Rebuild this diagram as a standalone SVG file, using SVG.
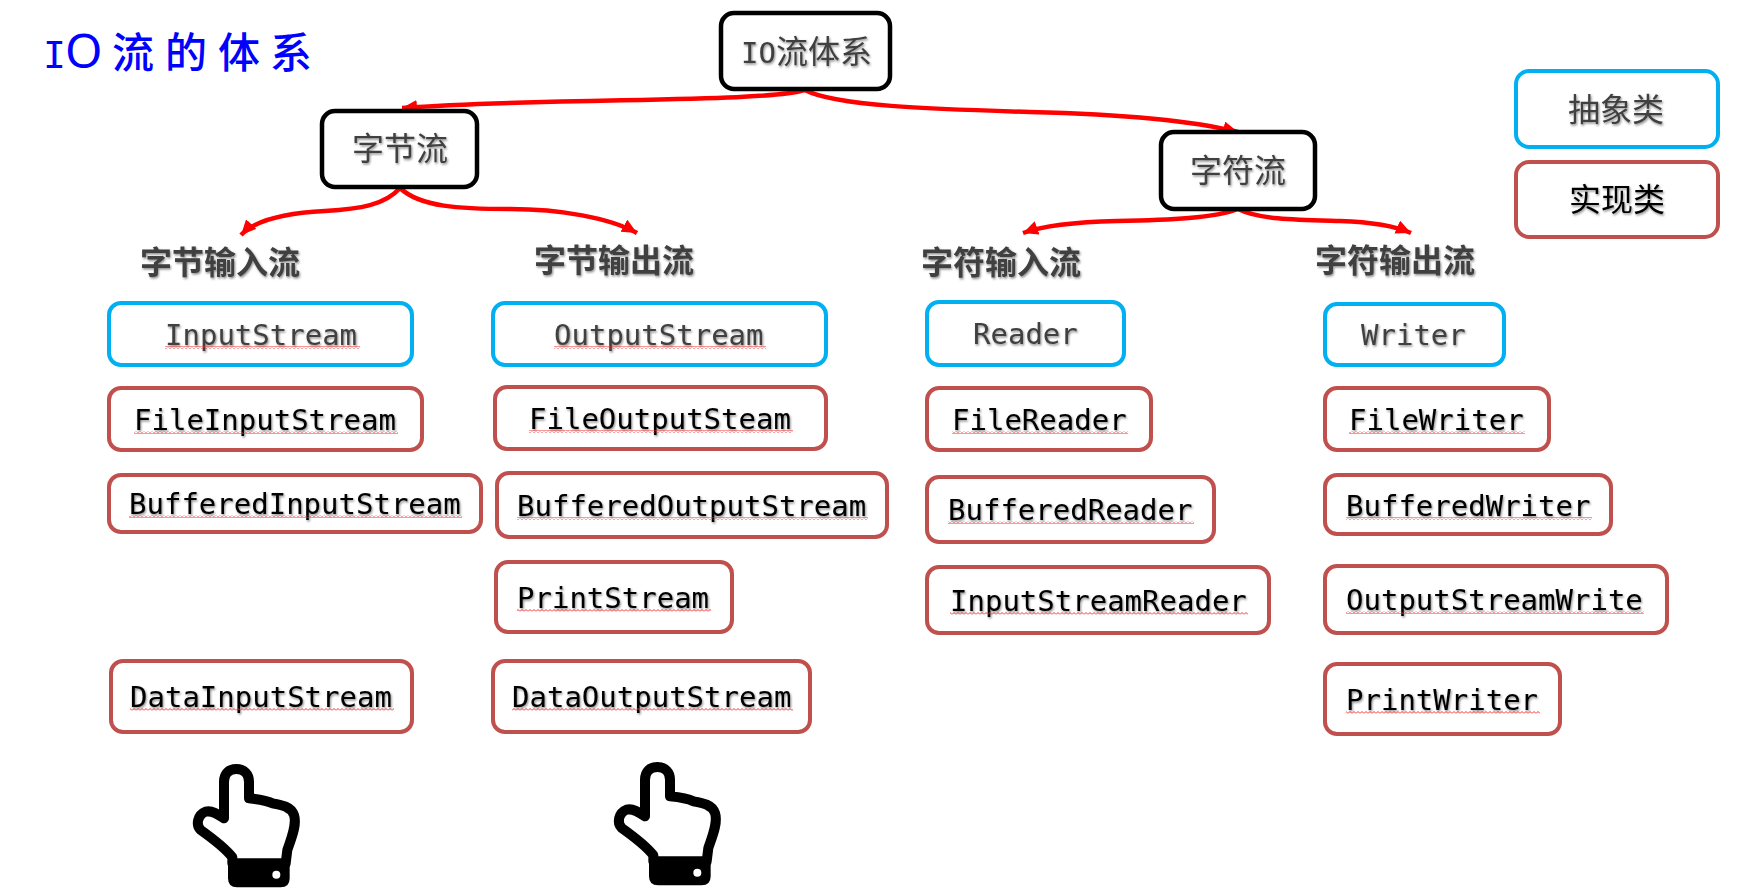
<svg xmlns="http://www.w3.org/2000/svg" width="1752" height="895" viewBox="0 0 1752 895">
<style>
  .box { fill: #fff; stroke-width: 4; }
  .root { stroke: #000; stroke-width: 4.5; }
  .abs { stroke: #00B0F0; }
  .impl { stroke: #C0504D; }
  text { filter: url(#soft); }
  .code { font: 29px "DejaVu Sans Mono", "Liberation Mono", monospace; }
  .cjk { font-family: "Noto Sans CJK SC", sans-serif; font-size: 32px; }
  .head { font-weight: 700; fill: #404040; }
  .dark { fill: #404040; }
  .ink { fill: #000; }
  .wave { fill: url(#squiggle); }
  .link { fill: none; stroke: #f00; stroke-width: 4.5; marker-end: url(#tip); }
  #title { filter: none; fill: #0000ff; font-size: 42px; font-weight: 500; }
  #title .mono { font: 400 38px "DejaVu Sans Mono", monospace; }
  #title .wide { font: 400 48px "Noto Sans", sans-serif; }
  .latin { font: 29px "DejaVu Sans Mono", monospace; }
</style>
<defs>
  <filter id="soft" x="-5%" y="-10%" width="110%" height="130%">
    <feDropShadow dx="1" dy="1.5" stdDeviation="1" flood-color="#000" flood-opacity="0.45"/>
  </filter>
  <pattern id="squiggle" width="4" height="3" patternUnits="userSpaceOnUse">
    <path d="M0 2.5 L2 0.5 L4 2.5" fill="none" stroke="#f03030" stroke-width="1"/>
  </pattern>
  <marker id="tip" markerUnits="userSpaceOnUse" markerWidth="18" markerHeight="16" refX="15" refY="7" orient="auto">
    <path d="M0 0 L15 7 L0 14 Z" fill="#f00"/>
  </marker>
  <symbol id="hand" viewBox="0 0 450 435" width="150" height="145">
    <path d="M165 205 V95 C165 70 180 57 202 57 C225 57 240 72 240 95 V145 C270 148 290 150 310 160 C340 165 365 170 375 195 C385 225 365 270 355 300 L350 340 H190 V322 C170 295 130 265 95 240 C80 225 85 195 110 185 C130 180 150 195 165 205 Z" fill="#fff" stroke="#000" stroke-width="30" stroke-linejoin="round"/>
    <path d="M177 332 H362 V385 Q362 412 335 412 H204 Q177 412 177 385 Z" fill="#000"/>
    <circle cx="322" cy="374" r="12" fill="#fff"/>
  </symbol>
</defs>
<rect width="1752" height="895" fill="#fff"/>

<text id="title" class="cjk" y="68"><tspan class="mono" x="43">I</tspan><tspan class="wide" x="65">O</tspan><tspan x="112">流</tspan><tspan x="165">的</tspan><tspan x="218">体</tspan><tspan x="270">系</tspan></text>

<g id="connectors">
  <path class="link" d="M805 90 C760 103 560 97 402 108"/>
  <path class="link" d="M805 90 C835 106 930 109 1030 112 C1110 114 1190 120 1238 132"/>
  <path class="link" d="M400 188 C385 205 360 209 325 211 C285 213 255 220 241 235"/>
  <path class="link" d="M400 188 C420 207 460 209 510 209 C560 209 610 218 637 233"/>
  <path class="link" d="M1238 209 C1215 218 1170 220 1117 221 C1075 222 1045 225 1023 233"/>
  <path class="link" d="M1238 209 C1260 220 1300 220 1340 221 C1370 222 1395 226 1411 233"/>
</g>

<g id="io-root"><rect class="box root" x="721" y="13" width="169" height="76" rx="13"/><text class="cjk dark" y="63"><tspan class="latin" x="741">IO</tspan><tspan x="776">流体系</tspan></text></g>
<g id="byte-stream"><rect class="box root" x="322" y="111" width="155" height="76" rx="13"/><text class="cjk dark" x="352" y="160">字节流</text></g>
<g id="char-stream"><rect class="box root" x="1161" y="132" width="154" height="77" rx="13"/><text class="cjk dark" x="1190" y="182">字符流</text></g>

<g id="legend-abstract"><rect class="box abs" x="1516" y="71" width="202" height="76" rx="13"/><text class="cjk dark" x="1568" y="121">抽象类</text></g>
<g id="legend-impl"><rect class="box impl" x="1516" y="162" width="202" height="75" rx="13"/><text class="cjk ink" x="1569" y="211">实现类</text></g>

<g id="head-byte-in"><text class="cjk head" x="140" y="274">字节输入流</text></g>
<g id="head-byte-out"><text class="cjk head" x="534" y="272">字节输出流</text></g>
<g id="head-char-in"><text class="cjk head" x="921" y="274">字符输入流</text></g>
<g id="head-char-out"><text class="cjk head" x="1315" y="272">字符输出流</text></g>

<g id="input-stream"><rect class="box abs" x="109" y="303" width="303" height="62" rx="12"/><text class="code dark" x="165" y="345">InputStream</text><rect class="wave" x="165" y="346" width="195" height="3"/></g>
<g id="file-input-stream"><rect class="box impl" x="109" y="388" width="313" height="62" rx="12"/><text class="code ink" x="134" y="430">FileInputStream</text><rect class="wave" x="134" y="431" width="264" height="3"/></g>
<g id="buffered-input-stream"><rect class="box impl" x="109" y="475" width="372" height="57" rx="12"/><text class="code ink" x="129" y="514">BufferedInputStream</text><rect class="wave" x="129" y="515" width="333" height="3"/></g>
<g id="data-input-stream"><rect class="box impl" x="111" y="661" width="301" height="71" rx="12"/><text class="code ink" x="130" y="707">DataInputStream</text><rect class="wave" x="130" y="708" width="264" height="3"/></g>

<g id="output-stream"><rect class="box abs" x="493" y="303" width="333" height="62" rx="12"/><text class="code dark" x="554" y="345">OutputStream</text><rect class="wave" x="554" y="346" width="212" height="3"/></g>
<g id="file-output-steam"><rect class="box impl" x="495" y="387" width="331" height="62" rx="12"/><text class="code ink" x="529" y="429">FileOutputSteam</text><rect class="wave" x="529" y="430" width="264" height="3"/></g>
<g id="buffered-output-stream"><rect class="box impl" x="497" y="473" width="390" height="64" rx="12"/><text class="code ink" x="517" y="516">BufferedOutputStream</text><rect class="wave" x="517" y="517" width="351" height="3"/></g>
<g id="print-stream"><rect class="box impl" x="496" y="562" width="236" height="70" rx="12"/><text class="code ink" x="517" y="608">PrintStream</text><rect class="wave" x="517" y="609" width="194" height="3"/></g>
<g id="data-output-stream"><rect class="box impl" x="493" y="661" width="317" height="71" rx="12"/><text class="code ink" x="512" y="707">DataOutputStream</text><rect class="wave" x="512" y="708" width="281" height="3"/></g>

<g id="reader"><rect class="box abs" x="927" y="302" width="197" height="63" rx="12"/><text class="code dark" x="973" y="344">Reader</text></g>
<g id="file-reader"><rect class="box impl" x="927" y="388" width="224" height="62" rx="12"/><text class="code ink" x="952" y="430">FileReader</text><rect class="wave" x="952" y="431" width="176" height="3"/></g>
<g id="buffered-reader"><rect class="box impl" x="927" y="477" width="287" height="65" rx="12"/><text class="code ink" x="948" y="520">BufferedReader</text><rect class="wave" x="948" y="521" width="246" height="3"/></g>
<g id="input-stream-reader"><rect class="box impl" x="927" y="567" width="342" height="66" rx="12"/><text class="code ink" x="950" y="611">InputStreamReader</text><rect class="wave" x="950" y="612" width="298" height="3"/></g>

<g id="writer"><rect class="box abs" x="1325" y="304" width="179" height="61" rx="12"/><text class="code dark" x="1361" y="345">Writer</text></g>
<g id="file-writer"><rect class="box impl" x="1325" y="388" width="224" height="62" rx="12"/><text class="code ink" x="1349" y="430">FileWriter</text><rect class="wave" x="1349" y="431" width="176" height="3"/></g>
<g id="buffered-writer"><rect class="box impl" x="1325" y="475" width="286" height="59" rx="12"/><text class="code ink" x="1346" y="516">BufferedWriter</text><rect class="wave" x="1346" y="517" width="246" height="3"/></g>
<g id="output-stream-write"><rect class="box impl" x="1325" y="566" width="342" height="67" rx="12"/><text class="code ink" x="1346" y="610">OutputStreamWrite</text><rect class="wave" x="1346" y="611" width="298" height="3"/></g>
<g id="print-writer"><rect class="box impl" x="1325" y="664" width="235" height="70" rx="12"/><text class="code ink" x="1346" y="710">PrintWriter</text><rect class="wave" x="1346" y="711" width="194" height="3"/></g>

<use id="hand-input" href="#hand" x="169" y="750"/>
<use id="hand-output" href="#hand" x="590" y="748"/>
</svg>
